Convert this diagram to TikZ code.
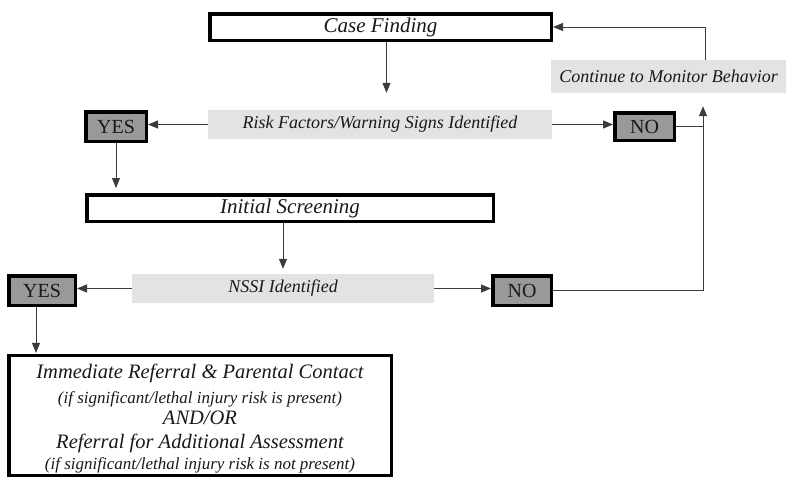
\documentclass[tikz,border=0pt]{standalone}
\usepackage{fontspec}
\setmainfont{Liberation Serif}
\usetikzlibrary{arrows.meta, positioning, calc}
\definecolor{boxlight}{RGB}{227, 227, 227}
\definecolor{boxdark}{RGB}{153, 153, 153}
\definecolor{linegray}{RGB}{60, 60, 60}
\definecolor{inkgray}{RGB}{25, 25, 25}

\begin{document}
\begin{tikzpicture}[
    x=1pt, y=-1pt,
    stepbox/.style={rectangle, draw=black, line width=3.5pt, fill=white,
                    inner sep=0pt, text=inkgray,
                    font=\fontsize{21}{25}\selectfont\itshape},
    testbox/.style={rectangle, fill=boxlight, inner sep=0pt, text=inkgray,
                    font=\fontsize{18}{22}\selectfont\itshape},
    ansbox/.style={rectangle, draw=black, line width=3.5pt, fill=boxdark,
                   inner sep=0pt, text=inkgray,
                   font=\fontsize{20}{24}\selectfont},
    arr/.style={-{Triangle[length=10pt, width=8pt]}, draw=linegray, line width=1pt},
    link/.style={draw=linegray, line width=1pt}
]
\useasboundingbox (0,0) rectangle (789,477);

% =========== top row: case finding and first test ===========
\node[stepbox, minimum width=341.5pt, minimum height=26.5pt] (casefind) at (380.5,27) {Case Finding};
\node[testbox, minimum width=235pt, minimum height=33pt]     (cont)     at (668.5,76.5) {Continue to Monitor Behavior};
\node[testbox, minimum width=344pt, minimum height=29pt]     (risk)     at (380,124.5) {Risk Factors/Warning Signs Identified};
\node[ansbox, minimum width=60.5pt, minimum height=29.5pt]   (yesA)     at (116,126.5) {YES};
\node[ansbox, minimum width=59.5pt, minimum height=27.5pt]   (noA)      at (644.5,126.5) {NO};

% =========== lower rows: screening and second test ===========
\node[stepbox, minimum width=406.5pt, minimum height=26.5pt] (initscr)  at (290,208) {Initial Screening};
\node[testbox, minimum width=302pt, minimum height=29pt]     (nssi)     at (283,288.5) {NSSI Identified};
\node[ansbox, minimum width=66.5pt, minimum height=29.5pt]   (yesB)     at (42,290.5) {YES};
\node[ansbox, minimum width=58.5pt, minimum height=29.5pt]   (noB)      at (522,290.5) {NO};

\node[stepbox, minimum width=382.5pt, inner ysep=2.5pt, align=center,
      font=\fontsize{20.5}{23}\selectfont\itshape] (referral) at (200,415.5)
    {\rule{0pt}{20pt}Immediate Referral \& Parental Contact\\[2pt]
     {\fontsize{17}{20}\selectfont (if significant/lethal injury risk is present)}\\[-2pt]
     AND/OR\\[1pt]
     Referral for Additional Assessment\\[-2pt]
     {\fontsize{17}{20}\selectfont (if significant/lethal injury risk is not present)}};

\coordinate (backx) at (705,0);
\coordinate (loopx) at (703,0);

% first pass
\draw[arr, shorten >=17pt] ([xshift=6pt]casefind.south) -- ([xshift=6pt]casefind.south |- risk.north);
\draw[arr] (risk.west) -- (risk.west -| yesA.east);
\draw[arr] (risk.east) -- (risk.east -| noA.west);
\draw[arr, shorten >=5pt] (yesA.south) -- (yesA.south |- initscr.north);

% second pass
\draw[arr, shorten >=5pt] (nssi.north |- initscr.south) -- (nssi.north);
\draw[arr] (nssi.west) -- (nssi.west -| yesB.east);
\draw[arr] (nssi.east) -- (nssi.east -| noB.west);
\draw[arr, shorten >=1pt] ([xshift=-6pt]yesB.south) -- ([xshift=-6pt]yesB.south |- referral.north);

% back to monitoring, then to case finding
\draw[link] (noA.east) -- (noA.east -| loopx);
\draw[arr] (noB.east) -| ([yshift=-13pt]cont.south -| loopx);
\draw[arr] (cont.north -| backx) |- (casefind.east);

\end{tikzpicture}
\end{document}
